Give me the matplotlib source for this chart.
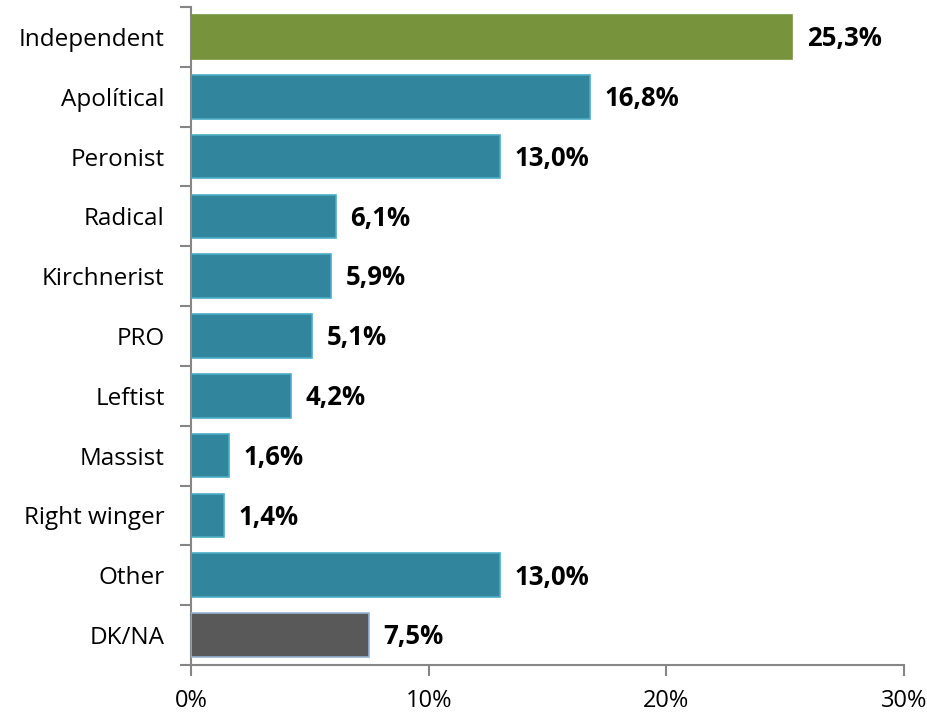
import matplotlib
matplotlib.use("Agg")
import matplotlib.pyplot as plt
import numpy as np

# data
categories = ["Independent", "Apolítical", "Peronist", "Radical", "Kirchnerist",
              "PRO", "Leftist", "Massist", "Right winger", "Other", "DK/NA"]
values = [25.3, 16.8, 13.0, 6.1, 5.9, 5.1, 4.2, 1.6, 1.4, 13.0, 7.5]
value_labels = ["25,3%", "16,8%", "13,0%", "6,1%", "5,9%", "5,1%",
                "4,2%", "1,6%", "1,4%", "13,0%", "7,5%"]
x_ticks = [0, 10, 20, 30]
x_ticklabels = ["0%", "10%", "20%", "30%"]

GREEN = "#77933C"
TEAL = "#31859C"
DARK = "#595959"
AXIS = "#868686"

plt.rcParams['font.family'] = ['Open Sans', 'DejaVu Sans']

fig = plt.figure(figsize=(9.27, 7.13), dpi=100)
ax = fig.add_axes([191 / 927, 48 / 713, 713 / 927, 658 / 713])

colors = [TEAL] * len(categories)
colors[0] = GREEN
colors[-1] = DARK
edges = ["#4BACC6"] * len(categories)
edges[0] = GREEN
edges[-1] = "#95B3D7"

y = np.arange(len(categories))
ax.barh(y, values, height=0.73, color=colors, edgecolor=edges, linewidth=1.2, zorder=3)

for yi, v, lab in zip(y, values, value_labels):
    ax.text(v + 0.6, yi + 0.03, lab, va="center", ha="left", fontsize=18.5,
            fontweight="bold", color="black")

ax.set_ylim(len(categories) - 0.5, -0.5)
ax.set_xlim(0, 30)

ax.set_yticks(y)
ax.set_yticklabels(categories, fontsize=17.5)
ax.set_yticks(np.arange(-0.5, len(categories)), minor=True)
ax.tick_params(axis="y", which="major", length=0, pad=19)
ax.tick_params(axis="y", which="minor", length=8, width=1.5, color=AXIS)

ax.set_xticks(x_ticks)
ax.set_xticklabels(x_ticklabels, fontsize=17)
ax.tick_params(axis="x", length=8, width=1.5, color=AXIS, pad=9)

for s in ["top", "right"]:
    ax.spines[s].set_visible(False)
for s in ["left", "bottom"]:
    ax.spines[s].set_color(AXIS)
    ax.spines[s].set_linewidth(1.5)

fig.savefig("out.png", dpi=100, facecolor="white")
